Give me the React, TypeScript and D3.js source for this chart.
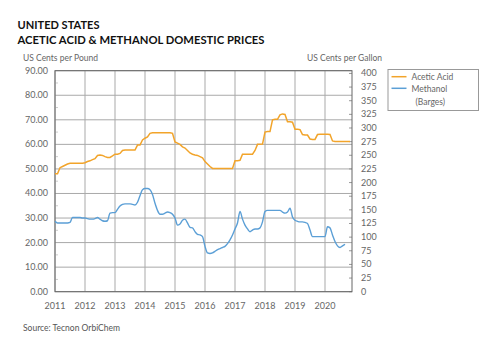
import React from 'react';
import * as d3 from 'd3';

const titleLines = ['UNITED STATES', 'ACETIC ACID & METHANOL DOMESTIC PRICES'];
const years = [2011, 2012, 2013, 2014, 2015, 2016, 2017, 2018, 2019, 2020];
const leftTicks = [0, 10, 20, 30, 40, 50, 60, 70, 80, 90];
const rightTicks = [0, 25, 50, 75, 100, 125, 150, 175, 200, 225, 250, 275, 300, 325, 350, 375, 400];

// Acetic Acid, US cents per pound, monthly from Jan 2011
const aceticAcid = [
  48, 48, 50.5, 51, 51.5, 52, 52.3, 52.3, 52.3, 52.3, 52.3, 52.3,
  52.5, 53, 53.3, 53.8, 54.2, 55.5, 55.7, 55.5, 55, 54.7, 54.7, 55.3,
  56, 56, 56.3, 57.5, 57.7, 57.7, 57.7, 57.7, 57.7, 59.7, 59.7, 61.8,
  62.5, 63, 64.5, 64.7, 64.7, 64.7, 64.7, 64.7, 64.7, 64.7, 64.7, 64.5,
  61, 60.5, 60, 59, 58.5, 57.5, 56.5, 56, 55.7, 55.5, 55, 54.5,
  53, 52, 51, 50.2, 50.2, 50.2, 50.2, 50.2, 50.2, 50.2, 50.2, 50.2,
  53.3, 53.3, 53.5, 56, 56, 56, 56, 56, 57.5, 60, 60, 60.1,
  65, 65.2, 65.2, 70, 70.2, 70.2, 72, 72.4, 72.2, 69.2, 69.2, 69,
  66.2, 66.2, 66, 64, 63.8, 63.8, 62.2, 62, 62, 64, 64.1, 64.1,
  64.1, 64.1, 64, 61.4, 61.2, 61.2, 61.2, 61.2, 61.2, 61.2, 61.2,
];

// Methanol (Barges), US cents per gallon, monthly from Jan 2011
const methanol = [
  129, 126, 126, 126, 126, 126, 127, 136, 136, 136, 136, 135,
  135, 134, 133, 133, 134, 136, 133, 130, 129, 130, 144, 145,
  145, 151, 157, 160, 161, 161, 161, 160, 159, 164, 176, 187,
  189, 189, 187, 178, 162, 149, 142, 142, 144, 146, 145, 142,
  135, 122, 124, 131, 133, 126, 118, 117, 110, 105, 104, 101,
  83, 71, 70, 71, 74, 77, 79, 81, 83, 88, 95, 104,
  115, 126, 147, 133, 122, 115, 110, 113, 115, 115, 117, 128,
  147, 149, 149, 149, 149, 149, 149, 146, 144, 146, 153, 137,
  131, 129, 128, 128, 127, 125, 113, 101, 101, 101, 101, 101,
  101, 119, 117, 104, 92, 84, 81, 84, 87,
];

const seriesNames = ['Acetic Acid', 'Methanol', '(Barges)'];
const FONT = "Lato, 'Open Sans', sans-serif";

export default function App() {
  const W = 500, H = 355;
  const x0 = 55, x1 = 352, yTop = 70.7, yBot = 291.7;
  const x = d3.scaleLinear().domain([0, 118.8]).range([x0, x1]);
  const yL = d3.scaleLinear().domain([0, 90]).range([yBot, yTop]);
  const yR = d3.scaleLinear().domain([0, 405]).range([yBot, yTop]);

  const lineA = d3.line<number>().x((_, i) => x(i)).y(d => yL(d));
  const lineM = d3.line<number>().x((_, i) => x(i)).y(d => yR(d)).curve(d3.curveMonotoneX);

  const orange = '#f2a42a';
  const blue = '#5b9fd6';
  const grid = '#a9a9a9';
  const textCol = '#666';

  const minorLeft = d3.range(5, 90, 10);

  return (
    <svg width={W} height={H} style={{ position: 'absolute', left: 0, top: 0, background: '#fff' }} fontFamily={FONT}>
      <rect width={W} height={H} fill="#fff" />
      <text x={17.5} y={29} fontSize={11} fontWeight="bold" fill="#111" textLength={82} lengthAdjust="spacingAndGlyphs">{titleLines[0]}</text>
      <text x={17.5} y={43.5} fontSize={11} fontWeight="bold" fill="#111" textLength={247} lengthAdjust="spacingAndGlyphs">{titleLines[1]}</text>

      <text x={23} y={61} fontSize={8.5} fill={textCol}>US Cents per Pound</text>
      <text x={307} y={61} fontSize={8.5} fill={textCol}>US Cents per Gallon</text>

      {/* gridlines */}
      {leftTicks.map(t => (
        <line key={'h' + t} x1={x0} x2={x1} y1={yL(t)} y2={yL(t)} stroke={grid} strokeWidth={1} />
      ))}
      {years.map(yr => (
        <line key={'v' + yr} x1={x((yr - 2011) * 12)} x2={x((yr - 2011) * 12)} y1={yTop} y2={yBot} stroke={grid} strokeWidth={1} />
      ))}
      {minorLeft.map(t => (
        <line key={'m' + t} x1={x0} x2={x0 + 3} y1={yL(t)} y2={yL(t)} stroke="#ccc" strokeWidth={1} />
      ))}
      {rightTicks.map(t => (
        <line key={'rt' + t} x1={x1 - 3} x2={x1} y1={yR(t)} y2={yR(t)} stroke="#999" strokeWidth={1} />
      ))}

      {/* frame */}
      <rect x={x0} y={yTop} width={x1 - x0} height={yBot - yTop} fill="none" stroke="#666" strokeWidth={1} />

      {/* series */}
      <path d={lineA(aceticAcid) || ''} fill="none" stroke={orange} strokeWidth={1.5} />
      <path d={lineM(methanol) || ''} fill="none" stroke={blue} strokeWidth={1.4} />

      {/* left axis labels */}
      {leftTicks.map(t => (
        <text key={'l' + t} x={48} y={yL(t) + 3} fontSize={9} fill={textCol} textAnchor="end">{t.toFixed(2)}</text>
      ))}
      {/* right axis labels */}
      {rightTicks.map(t => (
        <text key={'r' + t} x={361} y={yR(t) + 3} fontSize={9} fill={textCol}>{t}</text>
      ))}
      {/* x labels */}
      {years.map(yr => (
        <text key={'x' + yr} x={x((yr - 2011) * 12)} y={309} fontSize={9} fill={textCol} textAnchor="middle">{yr}</text>
      ))}

      {/* legend */}
      <rect x={388} y={69.5} width={90.5} height={41} fill="#fff" stroke="#999" strokeWidth={1} />
      <line x1={391.5} x2={406.5} y1={76.7} y2={76.7} stroke={orange} strokeWidth={1.5} />
      <text x={411.5} y={80} fontSize={8.5} fill={textCol}>{seriesNames[0]}</text>
      <line x1={391.5} x2={406.5} y1={88.3} y2={88.3} stroke={blue} strokeWidth={1.5} />
      <text x={411.5} y={91.5} fontSize={8.5} fill={textCol}>{seriesNames[1]}</text>
      <text x={415.5} y={105} fontSize={8.5} fill={textCol}>{seriesNames[2]}</text>

      <text x={23} y={331} fontSize={8.5} fill="#555">Source: Tecnon OrbiChem</text>
    </svg>
  );
}
